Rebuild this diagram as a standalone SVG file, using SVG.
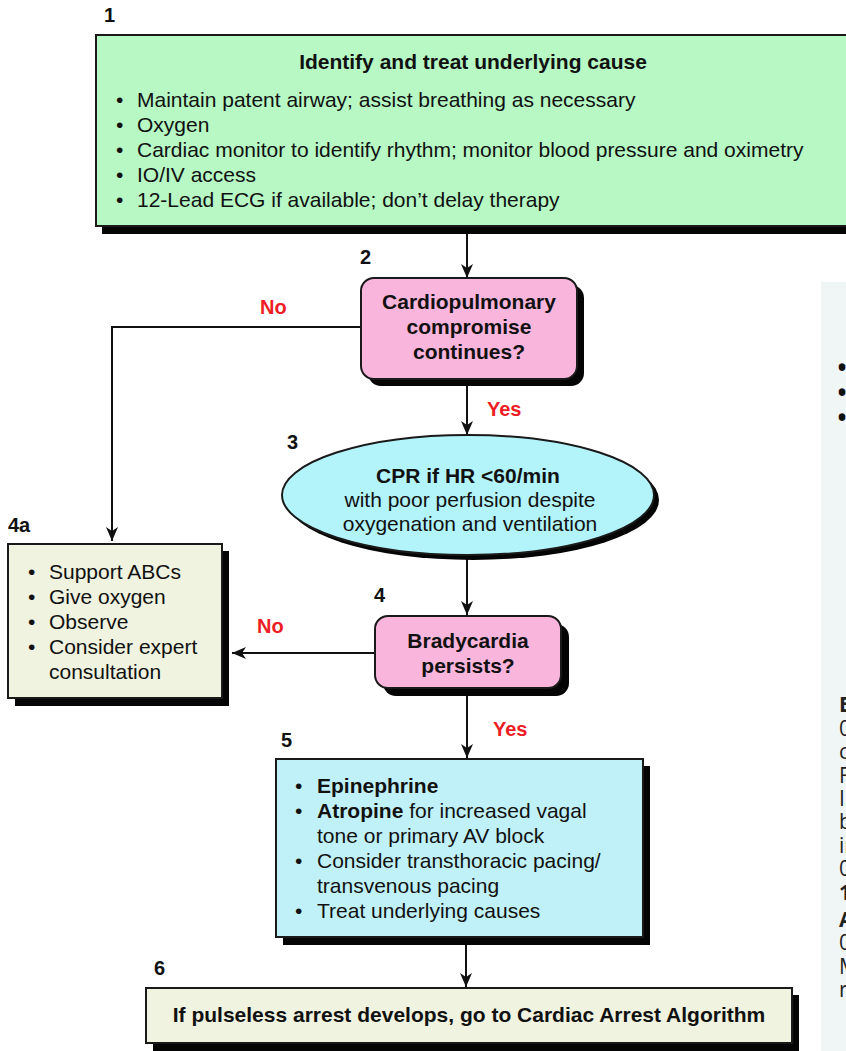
<svg xmlns="http://www.w3.org/2000/svg" width="846" height="1051" viewBox="0 0 846 1051">
<style>
.t{font-family:"Liberation Sans",Arial,sans-serif;font-size:21px;fill:#111}
.b{font-weight:bold}
.num{font-family:"Liberation Sans",Arial,sans-serif;font-size:20px;font-weight:bold;fill:#111}
.lbl{font-family:"Liberation Sans",Arial,sans-serif;font-size:20px;font-weight:bold;fill:#ee1c24}
.side{font-family:"Open Sans","Noto Sans",sans-serif;font-size:21px;fill:#222}
.sb{font-family:"Open Sans","Noto Sans",sans-serif;font-size:32px;fill:#111}
.sh{fill:#050505}
.bx{stroke:#1a1a1a;stroke-width:2}
.ln{fill:none;stroke:#111;stroke-width:2}
</style>
<defs>
<marker id="arr" viewBox="0 0 14 12" refX="14" refY="6" markerWidth="14" markerHeight="12" orient="auto" markerUnits="userSpaceOnUse"><path d="M0,0 L14,6 L0,12 L4,6 z" fill="#111"/></marker>
</defs>
<rect width="846" height="1051" fill="#ffffff"/>

<g id="side-panel">
<rect x="821" y="282" width="30" height="775" fill="#f0f5f6"/>
<text class="sb" x="836" y="379">•</text>
<text class="sb" x="836" y="404">•</text>
<text class="sb" x="836" y="429">•</text>
<text class="side" x="839" y="712" font-weight="bold">B</text>
<text class="side" x="839" y="736">0</text>
<text class="side" x="839" y="759">c</text>
<text class="side" x="839" y="783">F</text>
<text class="side" x="839" y="806">I</text>
<text class="side" x="839" y="829">b</text>
<text class="side" x="839" y="853">in</text>
<text class="side" x="839" y="876">0</text>
<text class="side" x="839" y="900" font-weight="bold">1</text>
<text class="side" x="839" y="927" font-weight="bold">A</text>
<text class="side" x="839" y="950">0</text>
<text class="side" x="839" y="974">M</text>
<text class="side" x="839" y="997">r</text>
</g>

<g id="connectors">
<line class="ln" x1="467" y1="234" x2="467" y2="278" marker-end="url(#arr)"/>
<polyline class="ln" points="361,327 112,327 112,541" marker-end="url(#arr)"/>
<line class="ln" x1="467" y1="386" x2="467" y2="435" marker-end="url(#arr)"/>
<line class="ln" x1="467" y1="558" x2="467" y2="615" marker-end="url(#arr)"/>
<line class="ln" x1="375" y1="653" x2="232" y2="653" marker-end="url(#arr)"/>
<line class="ln" x1="467" y1="696" x2="467" y2="758" marker-end="url(#arr)"/>
<line class="ln" x1="466" y1="945" x2="466" y2="987" marker-end="url(#arr)"/>
<text class="lbl" x="260" y="314">No</text>
<text class="lbl" x="487" y="416">Yes</text>
<text class="lbl" x="257" y="633">No</text>
<text class="lbl" x="493" y="736">Yes</text>
</g>

<g id="node1">
<text class="num" x="104" y="22">1</text>
<rect class="sh" x="102" y="42" width="800" height="192"/>
<rect class="bx" x="96" y="35" width="800" height="191" fill="#b7f8c5"/>
<text class="t b" x="473" y="69" text-anchor="middle">Identify and treat underlying cause</text>
<text class="t" x="116" y="107">•</text><text class="t" x="137" y="107">Maintain patent airway; assist breathing as necessary</text>
<text class="t" x="116" y="132">•</text><text class="t" x="137" y="132">Oxygen</text>
<text class="t" x="116" y="157">•</text><text class="t" x="137" y="157">Cardiac monitor to identify rhythm; monitor blood pressure and oximetry</text>
<text class="t" x="116" y="182">•</text><text class="t" x="137" y="182">IO/IV access</text>
<text class="t" x="116" y="207">•</text><text class="t" x="137" y="207">12-Lead ECG if available; don’t delay therapy</text>
</g>

<g id="node2">
<text class="num" x="360" y="264">2</text>
<rect class="sh" x="368" y="285" width="216" height="101" rx="13"/>
<rect class="bx" x="361" y="278" width="216" height="101" rx="13" fill="#f9b5dc"/>
<text class="t b" x="469" y="309" text-anchor="middle">Cardiopulmonary</text>
<text class="t b" x="469" y="334" text-anchor="middle">compromise</text>
<text class="t b" x="469" y="359" text-anchor="middle">continues?</text>
</g>

<g id="node3">
<text class="num" x="287" y="449">3</text>
<ellipse class="sh" cx="473" cy="500" rx="186" ry="60"/>
<ellipse class="bx" cx="468" cy="495" rx="186" ry="60" fill="#b3f4fa"/>
<text class="t b" x="468" y="483" text-anchor="middle">CPR if HR &lt;60/min</text>
<text class="t" x="470" y="507" text-anchor="middle">with poor perfusion despite</text>
<text class="t" x="470" y="531" text-anchor="middle">oxygenation and ventilation</text>
</g>

<g id="node4a">
<text class="num" x="8" y="532">4a</text>
<rect class="sh" x="15" y="551" width="214" height="155"/>
<rect class="bx" x="8" y="544" width="214" height="154" fill="#eff3e0"/>
<text class="t" x="28" y="579">•</text><text class="t" x="49" y="579">Support ABCs</text>
<text class="t" x="28" y="604">•</text><text class="t" x="49" y="604">Give oxygen</text>
<text class="t" x="28" y="629">•</text><text class="t" x="49" y="629">Observe</text>
<text class="t" x="28" y="654">•</text><text class="t" x="49" y="654">Consider expert</text>
<text class="t" x="49" y="679">consultation</text>
</g>

<g id="node4">
<text class="num" x="374" y="602">4</text>
<rect class="sh" x="383" y="624" width="186" height="72" rx="13"/>
<rect class="bx" x="375" y="616" width="186" height="72" rx="13" fill="#f9b5dc"/>
<text class="t b" x="468" y="648" text-anchor="middle">Bradycardia</text>
<text class="t b" x="468" y="673" text-anchor="middle">persists?</text>
</g>

<g id="node5">
<text class="num" x="281" y="747">5</text>
<rect class="sh" x="283" y="766" width="367" height="179"/>
<rect class="bx" x="276" y="759" width="367" height="178" fill="#c1f1f8"/>
<text class="t" x="295" y="793">•</text><text class="t b" x="317" y="793">Epinephrine</text>
<text class="t" x="295" y="818">•</text><text class="t" x="317" y="818"><tspan class="b">Atropine</tspan> for increased vagal</text>
<text class="t" x="317" y="843">tone or primary AV block</text>
<text class="t" x="295" y="868">•</text><text class="t" x="317" y="868">Consider transthoracic pacing/</text>
<text class="t" x="317" y="893">transvenous pacing</text>
<text class="t" x="295" y="918">•</text><text class="t" x="317" y="918">Treat underlying causes</text>
</g>

<g id="node6">
<text class="num" x="154" y="975">6</text>
<rect class="sh" x="153" y="995" width="646" height="60"/>
<rect class="bx" x="146" y="988" width="646" height="55" fill="#eff3e0"/>
<text class="t b" x="469" y="1022" text-anchor="middle">If pulseless arrest develops, go to Cardiac Arrest Algorithm</text>
</g>
</svg>
